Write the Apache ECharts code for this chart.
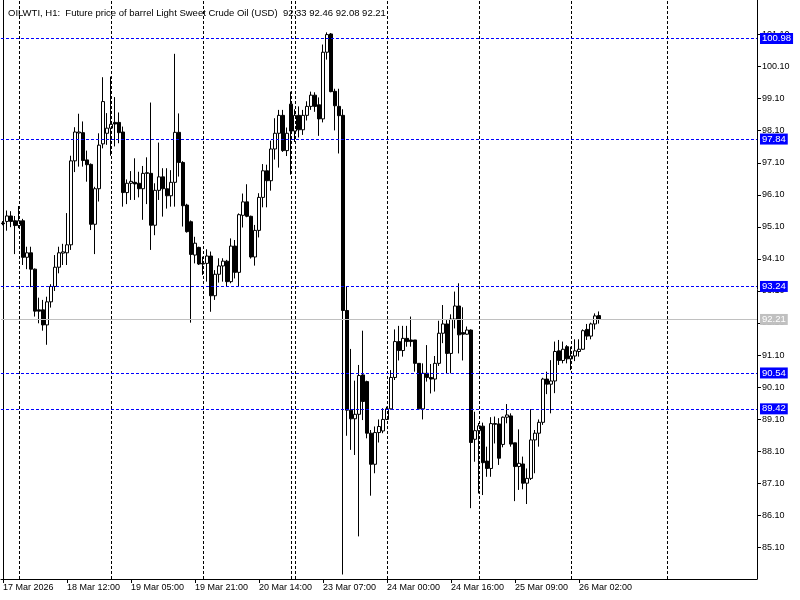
<!DOCTYPE html>
<html><head><meta charset="utf-8">
<script src="https://cdn.jsdelivr.net/npm/echarts@6/dist/echarts.min.js"></script>
<style>html,body{margin:0;padding:0;background:#fff}#c{width:800px;height:600px}</style>
</head><body><div id="c"></div>
<script>
// ---- Data (hourly OHLC, OILWTI H1) ----
const opens = [
95.22, 95.27, 95.44, 95.29, 95.14, 95.29, 94.15, 94.29, 93.78, 92.51,
92.51, 92.04, 92.76, 93.24, 93.84, 94.28, 94.29, 94.54, 97.16, 98.03,
98.04, 97.19, 97.05, 95.18, 96.29, 97.69, 98.02, 98.18, 98.36, 98.36,
98.06, 96.17, 96.46, 96.49, 96.46, 96.29, 96.77, 96.77, 95.15, 96.24,
96.66, 96.29, 96.07, 96.49, 98.05, 97.11, 95.78, 95.26, 94.22, 94.46,
93.96, 93.96, 94.19, 92.95, 93.62, 93.88, 94.03, 93.39, 94.50, 93.68,
95.46, 95.88, 95.43, 94.16, 94.99, 96.02, 96.85, 96.54, 97.53, 98.02,
98.58, 97.48, 98.93, 98.09, 98.58, 98.13, 98.58, 98.86, 99.21, 98.91,
98.47, 100.55, 101.12, 99.33, 98.86, 98.58, 92.49, 89.38, 89.11, 89.25,
90.48, 90.27, 88.66, 87.69, 88.68, 88.73, 89.09, 89.42, 90.40, 91.52,
91.24, 91.62, 91.57, 91.57, 90.84, 89.42, 90.53, 90.40, 90.35, 90.84,
91.78, 92.07, 91.15, 92.22, 92.63, 91.80, 91.75, 91.88, 88.47, 88.74,
88.88, 87.79, 87.56, 88.96, 88.95, 88.31, 89.16, 89.20, 88.36, 87.62,
87.70, 87.10, 87.25, 88.45, 88.66, 89.00, 90.35, 90.19, 90.29, 91.23,
90.93, 91.36, 90.98, 91.07, 91.21, 91.28, 91.90, 91.69, 92.07, 92.33
];
const highs = [
95.28, 95.61, 95.59, 95.44, 95.75, 95.35, 94.48, 94.48, 93.80, 92.89,
92.82, 92.92, 93.31, 94.22, 94.48, 94.57, 95.53, 97.32, 98.21, 98.63,
98.39, 97.48, 97.08, 96.35, 98.02, 99.77, 98.65, 99.79, 99.15, 98.67,
98.23, 96.58, 96.84, 97.24, 96.82, 97.00, 97.27, 98.98, 96.46, 97.73,
96.93, 96.93, 96.87, 100.50, 98.64, 97.15, 95.82, 95.30, 94.79, 94.48,
94.17, 94.40, 94.33, 93.75, 94.12, 94.12, 94.07, 94.74, 94.69, 95.52,
96.14, 96.43, 95.45, 95.16, 96.15, 97.06, 97.04, 97.79, 98.49, 98.75,
98.75, 98.20, 99.32, 98.77, 98.86, 98.75, 99.02, 99.32, 99.30, 99.14,
100.79, 101.17, 101.15, 99.41, 99.41, 98.77, 93.25, 91.29, 90.30, 90.79,
91.86, 90.30, 88.76, 88.87, 89.09, 89.44, 89.49, 90.63, 91.90, 92.01,
92.01, 92.01, 92.30, 91.57, 90.84, 90.84, 91.41, 90.82, 91.07, 92.17,
92.66, 92.19, 92.37, 93.08, 93.34, 92.59, 91.99, 91.90, 89.33, 88.98,
88.99, 88.24, 89.16, 89.18, 89.13, 89.18, 89.57, 89.28, 88.36, 88.78,
87.93, 87.56, 89.41, 88.76, 89.09, 90.39, 90.58, 90.94, 91.52, 91.57,
91.52, 91.41, 91.36, 91.59, 91.59, 91.90, 92.07, 92.11, 92.40, 92.46
];
const lows = [
95.15, 94.98, 95.09, 94.25, 95.06, 93.91, 93.78, 93.22, 92.30, 92.09,
91.86, 91.42, 92.58, 93.10, 93.65, 93.91, 93.91, 94.38, 96.81, 96.98,
96.98, 96.51, 95.00, 94.25, 95.89, 97.55, 97.66, 97.32, 97.61, 97.71,
95.73, 95.81, 95.94, 95.94, 96.02, 95.32, 95.81, 94.38, 94.84, 95.94,
95.42, 95.67, 95.73, 95.73, 96.67, 95.11, 94.92, 92.11, 93.96, 93.91,
93.60, 93.39, 92.45, 92.82, 93.36, 93.39, 93.23, 93.34, 93.49, 93.23,
95.08, 95.40, 94.11, 93.89, 94.77, 95.71, 95.71, 96.23, 97.20, 96.95,
97.44, 97.31, 96.73, 97.75, 97.89, 97.97, 98.42, 98.75, 98.69, 97.94,
98.36, 100.32, 99.30, 98.11, 97.39, 84.25, 88.58, 88.14, 87.98, 85.44,
89.07, 88.50, 86.71, 87.41, 88.37, 88.66, 89.07, 89.40, 90.32, 90.93,
91.05, 91.36, 91.36, 90.58, 89.39, 89.09, 90.27, 89.90, 89.96, 90.76,
91.47, 90.53, 90.53, 91.93, 91.15, 90.93, 91.73, 86.32, 87.77, 86.78,
86.73, 87.30, 87.30, 88.34, 87.67, 88.22, 88.97, 88.24, 86.54, 86.89,
86.91, 86.45, 87.20, 87.41, 88.24, 88.92, 89.88, 89.28, 89.91, 90.79,
90.84, 90.84, 90.63, 90.91, 91.05, 91.26, 91.57, 91.59, 91.90, 92.08
];
const closes = [
95.20, 95.44, 95.27, 95.14, 95.29, 94.15, 94.29, 93.78, 92.47, 92.47,
92.04, 92.76, 93.24, 93.84, 94.29, 94.32, 94.54, 97.16, 98.06, 98.06,
97.17, 97.04, 95.18, 96.29, 97.65, 99.01, 98.18, 98.30, 98.31, 98.04,
96.17, 96.46, 96.52, 96.44, 96.29, 96.77, 96.79, 95.15, 96.24, 96.66,
96.29, 96.07, 96.49, 98.05, 97.11, 95.76, 94.95, 94.24, 94.59, 93.94,
93.94, 94.19, 92.95, 93.62, 93.88, 94.03, 93.39, 94.50, 93.68, 95.48,
95.88, 95.43, 94.16, 94.99, 96.02, 96.85, 96.54, 97.53, 98.02, 98.58,
97.48, 98.02, 98.09, 98.58, 98.13, 98.58, 98.86, 99.21, 98.86, 98.47,
100.55, 101.10, 99.32, 98.88, 98.57, 92.49, 89.38, 89.11, 89.25, 90.46,
89.65, 88.66, 87.69, 88.68, 88.87, 89.09, 89.42, 90.40, 91.52, 91.24,
91.62, 91.52, 91.52, 90.84, 89.42, 90.53, 90.40, 90.35, 90.84, 91.78,
92.07, 91.15, 92.22, 92.63, 91.73, 91.75, 91.88, 88.37, 88.74, 88.89,
87.74, 87.56, 88.96, 88.94, 87.88, 89.16, 89.23, 88.32, 87.62, 87.72,
87.10, 87.25, 88.45, 88.66, 89.00, 90.35, 90.19, 90.29, 91.21, 90.93,
91.28, 90.98, 91.07, 91.23, 91.28, 91.86, 91.69, 92.07, 92.32, 92.21
];
const priceTicks = [85.1, 86.1, 87.1, 88.1, 89.1, 90.1, 91.1, 92.1, 93.1, 94.1, 95.1, 96.1, 97.1, 98.1, 99.1, 100.1, 101.1];
const levelLines = [100.98, 97.84, 93.24, 90.54, 89.42];
const bidPrice = 92.21;
const symbolTitle = 'OILWTI, H1:  Future price of barrel Light Sweet Crude Oil (USD)';
const firstBarUTC = Date.UTC(2026, 2, 17, 19);
const totalSlots = 189;
const labelEvery = 16;

// ---- Time axis (hourly bars, 23:00 break and weekends skipped) ----
const MON = ['Jan','Feb','Mar','Apr','May','Jun','Jul','Aug','Sep','Oct','Nov','Dec'];
const pad = n => String(n).padStart(2, '0');
const barTimes = [];
let t = firstBarUTC;
while (barTimes.length < opens.length) {
  const d = new Date(t), wd = d.getUTCDay();
  if (d.getUTCHours() !== 23 && wd !== 0 && wd !== 6) barTimes.push(t);
  t += 3600e3;
}
const slotTimes = barTimes.slice();
t = barTimes[barTimes.length - 1] + 3600e3;
while (slotTimes.length < totalSlots) { slotTimes.push(t); t += 3600e3; }
const fmtTime = ts => { const d = new Date(ts); return d.getUTCDate() + ' ' + MON[d.getUTCMonth()] + ' ' + pad(d.getUTCHours()) + ':00'; };
const fmtDate = ts => { const d = new Date(ts); return d.getUTCDate() + ' ' + MON[d.getUTCMonth()] + ' ' + d.getUTCFullYear(); };
const categories = slotTimes.map(fmtTime);

// day separators (00:00) and end of week
const sepIdx = [];
slotTimes.forEach((ts, i) => {
  if (new Date(ts).getUTCHours() === 0) sepIdx.push(i);
  if (i < slotTimes.length - 1 && slotTimes[i + 1] - ts > 24 * 3600e3) sepIdx.push(i);
});

const candleData = opens.map((o, i) => [o, closes[i], lows[i], highs[i]]);
const last = opens.length - 1;
const titleText = symbolTitle + '  ' + [opens[last], highs[last], lows[last], closes[last]].map(v => v.toFixed(2)).join(' ');

const FONT = 'Liberation Sans';
const showTick = (index) => index % labelEvery === 0 && index < opens.length;
const yMin = 84.11, yMax = 102.18;

const chart = echarts.init(document.getElementById('c'), null, { renderer: 'canvas' });
chart.setOption({
  animation: false,
  backgroundColor: '#ffffff',
  title: {
    text: titleText, left: 3, top: 3,
    textStyle: { fontSize: 9.5, fontWeight: 'normal', color: '#000', fontFamily: FONT }
  },
  grid: { left: 0, right: 43, top: 0, bottom: 21 },
  xAxis: {
    type: 'category', data: categories, boundaryGap: true,
    axisLine: { show: true, lineStyle: { color: '#000', width: 1 } },
    axisTick: { show: true, interval: showTick, alignWithLabel: true, length: 4, lineStyle: { color: '#000' } },
    axisLabel: {
      interval: showTick, align: 'left', margin: 4, fontSize: 9, color: '#000', fontFamily: FONT,
      formatter: (v, idx) => idx === 0 ? fmtDate(slotTimes[0]) : v
    },
    splitLine: { show: false }
  },
  yAxis: [{
    type: 'value', position: 'right', min: yMin, max: yMax,
    axisLine: { show: true, lineStyle: { color: '#000' } },
    axisTick: { show: true, customValues: priceTicks, length: 4, lineStyle: { color: '#000' } },
    axisLabel: { customValues: priceTicks, formatter: v => v.toFixed(2), margin: 5, fontSize: 9, color: '#000', fontFamily: FONT },
    splitLine: { show: false }
  }, {
    type: 'value', position: 'left', min: yMin, max: yMax, offset: -2,
    axisLine: { show: true, lineStyle: { color: '#000' } },
    axisTick: { show: false }, axisLabel: { show: false }, splitLine: { show: false }
  }],
  series: [{
    type: 'line', data: [], z: 1, silent: true,
    markLine: {
      silent: true, symbol: 'none', animation: false,
      data: [
        ...sepIdx.map(i => ({ xAxis: categories[i], lineStyle: { color: '#000', type: [3, 2], width: 1 }, label: { show: false } })),
        ...levelLines.map(v => ({
          yAxis: v, lineStyle: { color: '#0000ff', type: [3, 2], width: 1 },
          label: { show: true, position: 'end', distance: 3, formatter: () => v.toFixed(2), color: '#fff', backgroundColor: '#0000ff', padding: [1, 2, 0, 2], fontSize: 9.5, fontFamily: FONT }
        })),
        { yAxis: bidPrice, lineStyle: { color: '#c0c0c0', type: 'solid', width: 1 },
          label: { show: true, position: 'end', distance: 3, formatter: () => bidPrice.toFixed(2), color: '#fff', backgroundColor: '#c0c0c0', padding: [1, 2, 0, 2], fontSize: 9.5, fontFamily: FONT } }
      ]
    }
  }, {
    type: 'candlestick', data: candleData, z: 3, barWidth: 3,
    itemStyle: { color: '#ffffff', color0: '#000000', borderColor: '#000000', borderColor0: '#000000', borderWidth: 1 }
  }]
});
</script></body></html>
